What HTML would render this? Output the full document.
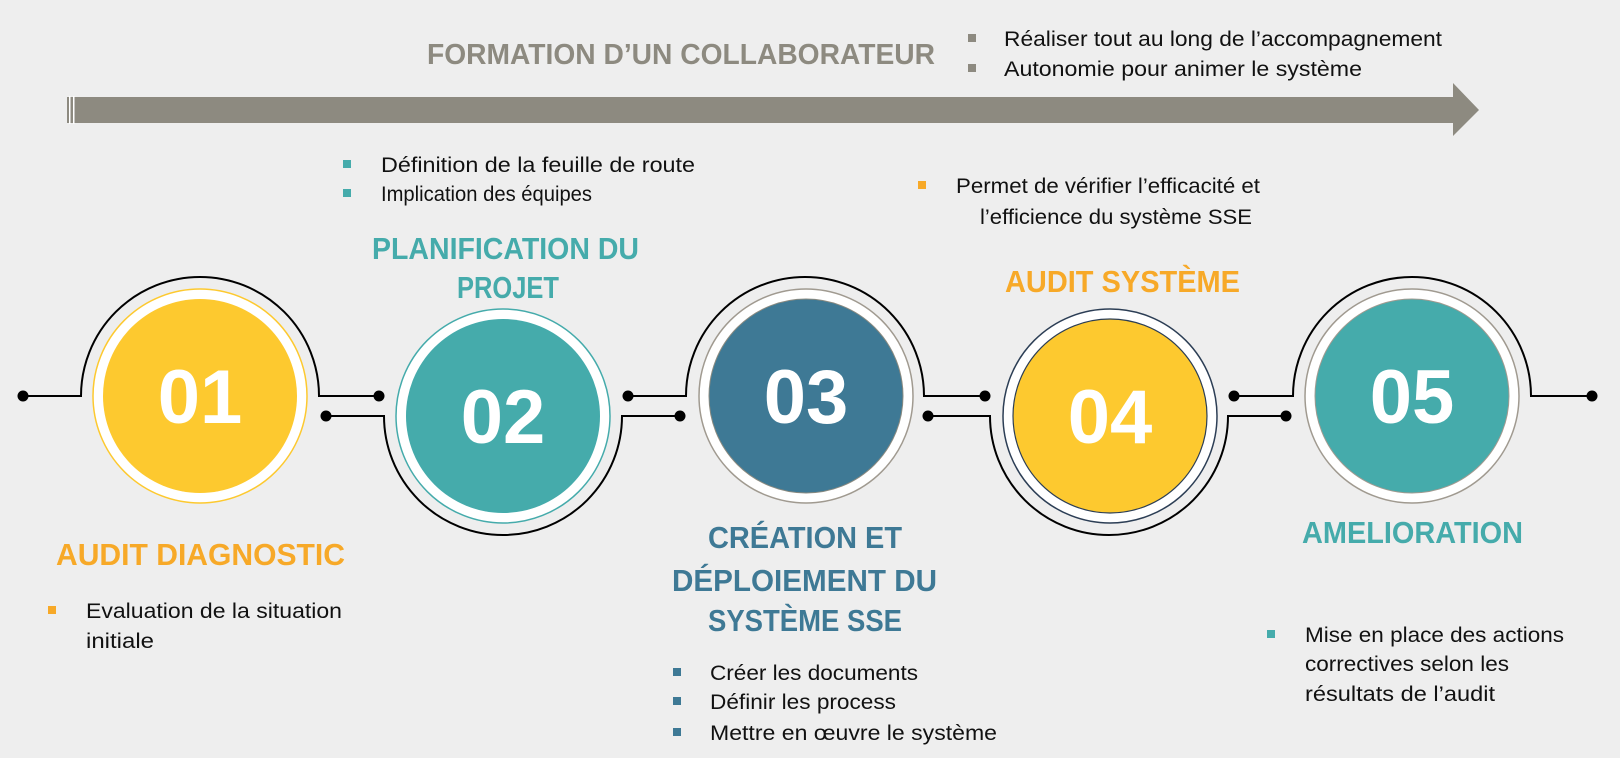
<!DOCTYPE html>
<html><head><meta charset="utf-8"><style>
html,body{margin:0;padding:0;background:#eeeeee;}
svg{display:block;}
text{font-family:"Liberation Sans",sans-serif;}
</style></head><body>
<svg width="1620" height="758" viewBox="0 0 1620 758" xmlns="http://www.w3.org/2000/svg">
<rect width="1620" height="758" fill="#eeeeee"/>
<!-- arrow -->
<rect x="67" y="97" width="1387" height="26" fill="#8d8a80"/>
<polygon points="1453,83 1479,110 1453,136" fill="#8d8a80"/>
<rect x="69" y="96" width="1.5" height="28" fill="#fff"/>
<rect x="73" y="96" width="1.5" height="28" fill="#fff"/>
<text x="427" y="64" font-size="29" font-weight="bold" fill="#8d8a80" textLength="508" lengthAdjust="spacingAndGlyphs">FORMATION D’UN COLLABORATEUR</text>
<rect x="968" y="34" width="8" height="8" fill="#8d8a80"/>
<rect x="968" y="64" width="8" height="8" fill="#8d8a80"/>
<text x="1004" y="46" font-size="21" fill="#111" textLength="438" lengthAdjust="spacingAndGlyphs">Réaliser tout au long de l’accompagnement</text>
<text x="1004" y="76" font-size="21" fill="#111" textLength="358" lengthAdjust="spacingAndGlyphs">Autonomie pour animer le système</text>

<!-- connectors -->
<g stroke="#000" stroke-width="2" fill="none">
<path d="M23,396 H81 A119,119 0 0 1 319,396 H379"/>
<path d="M326,416 H384 A119,119 0 0 0 622,416 H680"/>
<path d="M628,396 H686 A119,119 0 0 1 924,396 H985"/>
<path d="M928,416 H990 A119,119 0 0 0 1228,416 H1286"/>
<path d="M1234,396 H1293 A119,119 0 0 1 1531,396 H1592"/>
</g>
<g fill="#000">
<circle cx="23" cy="396" r="5.5"/><circle cx="379" cy="396" r="5.5"/>
<circle cx="326" cy="416" r="5.5"/><circle cx="680" cy="416" r="5.5"/>
<circle cx="628" cy="396" r="5.5"/><circle cx="985" cy="396" r="5.5"/>
<circle cx="928" cy="416" r="5.5"/><circle cx="1286" cy="416" r="5.5"/>
<circle cx="1234" cy="396" r="5.5"/><circle cx="1592" cy="396" r="5.5"/>
</g>

<!-- circles -->
<circle cx="200" cy="396" r="107" fill="#fff" stroke="#fdc92f" stroke-width="1.5"/>
<circle cx="200" cy="396" r="97" fill="#fdc92f"/>
<circle cx="503" cy="416" r="107" fill="#fff" stroke="#45abab" stroke-width="1.5"/>
<circle cx="503" cy="416" r="97" fill="#45abab"/>
<circle cx="806" cy="396" r="107" fill="#fff" stroke="#a09a90" stroke-width="1.5"/>
<circle cx="806" cy="396" r="97" fill="#3e7995" stroke="#8a8a80" stroke-width="1"/>
<circle cx="1110" cy="416" r="107" fill="#fff" stroke="#2c3e55" stroke-width="1.5"/>
<circle cx="1110" cy="416" r="97" fill="#fdc92f" stroke="#2c3e55" stroke-width="1.2"/>
<circle cx="1412" cy="396" r="107" fill="#fff" stroke="#a09a90" stroke-width="1.5"/>
<circle cx="1412" cy="396" r="97" fill="#45abab" stroke="#a09a90" stroke-width="1"/>
<g font-size="76" font-weight="bold" fill="#fff" text-anchor="middle">
<text x="200" y="423">01</text>
<text x="503" y="443">02</text>
<text x="806" y="423">03</text>
<text x="1110" y="443">04</text>
<text x="1412" y="423">05</text>
</g>

<!-- headings -->
<g font-size="31" font-weight="bold">
<text x="372" y="259" fill="#45abab" textLength="267" lengthAdjust="spacingAndGlyphs">PLANIFICATION DU</text>
<text x="457" y="298" fill="#45abab" textLength="102" lengthAdjust="spacingAndGlyphs">PROJET</text>
<text x="1005" y="292" fill="#f7a928" textLength="235" lengthAdjust="spacingAndGlyphs">AUDIT SYSTÈME</text>
<text x="56" y="565" fill="#f7a928" textLength="289" lengthAdjust="spacingAndGlyphs">AUDIT DIAGNOSTIC</text>
<text x="708" y="548" fill="#3e7995" textLength="194" lengthAdjust="spacingAndGlyphs">CRÉATION ET</text>
<text x="672" y="591" fill="#3e7995" textLength="265" lengthAdjust="spacingAndGlyphs">DÉPLOIEMENT DU</text>
<text x="708" y="631" fill="#3e7995" textLength="194" lengthAdjust="spacingAndGlyphs">SYSTÈME SSE</text>
<text x="1302" y="543" fill="#45abab" textLength="221" lengthAdjust="spacingAndGlyphs">AMELIORATION</text>
</g>

<!-- bullets -->
<g font-size="21" fill="#111">
<rect x="343" y="160" width="8" height="8" fill="#45abab"/>
<rect x="343" y="189" width="8" height="8" fill="#45abab"/>
<text x="381" y="172" textLength="314" lengthAdjust="spacingAndGlyphs">Définition de la feuille de route</text>
<text x="381" y="201" textLength="211" lengthAdjust="spacingAndGlyphs">Implication des équipes</text>

<rect x="918" y="181" width="8" height="8" fill="#f7a928"/>
<text x="956" y="193" textLength="304" lengthAdjust="spacingAndGlyphs">Permet de vérifier l’efficacité et</text>
<text x="980" y="224" textLength="272" lengthAdjust="spacingAndGlyphs">l’efficience du système SSE</text>

<rect x="48" y="606" width="8" height="8" fill="#f7a928"/>
<text x="86" y="618" textLength="256" lengthAdjust="spacingAndGlyphs">Evaluation de la situation</text>
<text x="86" y="648" textLength="68" lengthAdjust="spacingAndGlyphs">initiale</text>

<rect x="673" y="668" width="8" height="8" fill="#3e7995"/>
<rect x="673" y="697" width="8" height="8" fill="#3e7995"/>
<rect x="673" y="728" width="8" height="8" fill="#3e7995"/>
<text x="710" y="680" textLength="208" lengthAdjust="spacingAndGlyphs">Créer les documents</text>
<text x="710" y="709" textLength="186" lengthAdjust="spacingAndGlyphs">Définir les process</text>
<text x="710" y="740" textLength="287" lengthAdjust="spacingAndGlyphs">Mettre en œuvre le système</text>

<rect x="1267" y="630" width="8" height="8" fill="#45abab"/>
<text x="1305" y="642" textLength="259" lengthAdjust="spacingAndGlyphs">Mise en place des actions</text>
<text x="1305" y="671" textLength="204" lengthAdjust="spacingAndGlyphs">correctives selon les</text>
<text x="1305" y="701" textLength="190" lengthAdjust="spacingAndGlyphs">résultats de l’audit</text>
</g>
</svg>
</body></html>
